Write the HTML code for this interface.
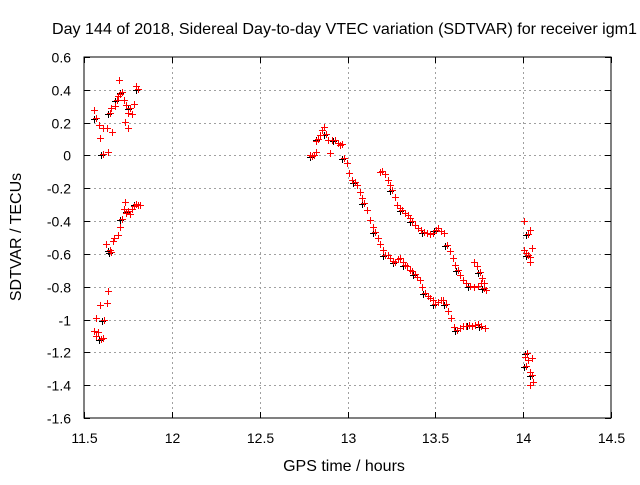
<!DOCTYPE html>
<html><head><meta charset="utf-8"><style>
body{margin:0;background:#fff}
svg text{font-family:"Liberation Sans",sans-serif;font-size:14px;fill:#000}
svg text.big{font-size:16px}
</style></head><body>
<svg id="chart" width="640" height="480" xmlns="http://www.w3.org/2000/svg">
<text class="big" x="52" y="34" textLength="585" lengthAdjust="spacingAndGlyphs">Day 144 of 2018, Sidereal Day-to-day VTEC variation (SDTVAR) for receiver igm1</text>
<text class="big" x="344" y="471" text-anchor="middle">GPS time / hours</text>
<text class="big" x="0" y="0" text-anchor="middle" transform="translate(21,237) rotate(-90)">SDTVAR / TECUs</text>
<g id="grid"></g><g id="ticks"></g><g id="marks"></g>
<rect x="84" y="57" width="527" height="361" fill="none" stroke="#000" stroke-width="1"/>
</svg>
<script>
const xTicks=[11.5,12,12.5,13,13.5,14,14.5];
const xTickLabels=["11.5","12","12.5","13","13.5","14","14.5"];
const yTicks=[0.6,0.4,0.2,0,-0.2,-0.4,-0.6,-0.8,-1,-1.2,-1.4,-1.6];
const yTickLabels=["0.6","0.4","0.2","0","-0.2","-0.4","-0.6","-0.8","-1","-1.2","-1.4","-1.6"];
const xsA=[11.557,11.568,11.585,11.591,11.608,11.608,11.637,11.659,11.676,11.688,11.694,11.699,11.705,11.716,11.728,11.739,11.750,11.762,11.773,11.785,11.796,11.807,11.75,11.733,11.631,11.648,11.654];
const ysA=[0.277,0.228,0.185,0.106,0.167,0.008,0.02,0.143,0.301,0.338,0.362,0.46,0.374,0.386,0.338,0.307,0.258,0.289,0.252,0.313,0.423,0.405,0.167,0.204,0.167,0.258,0.289];
const xsB=[11.625,11.648,11.671,11.694,11.705,11.716,11.728,11.733,11.739,11.75,11.762,11.773,11.785,11.796,11.807,11.819,11.665,11.654,11.637,11.631,11.591,11.614,11.568,11.557,11.580,11.597,11.608,11.568];
const ysB=[-0.541,-0.577,-0.504,-0.486,-0.437,-0.388,-0.327,-0.284,-0.352,-0.339,-0.357,-0.327,-0.309,-0.296,-0.302,-0.302,-0.522,-0.589,-0.827,-0.9,-0.912,-1.004,-0.992,-1.071,-1.077,-1.12,-1.114,-1.102];
const xsC=[12.787,12.798,12.809,12.821,12.821,12.832,12.843,12.855,12.866,12.878,12.889,12.900,12.912,12.929,12.946,12.957,12.969,12.980,12.997,13.009,13.026,13.043,13.054,13.071,13.083,13.094,13.111,13.128,13.145,13.157,13.174,13.185,13.202,13.214,13.231,13.242,13.259,13.271,13.288,13.299,13.316,13.327,13.339,13.356,13.367,13.384,13.396,13.413,13.424,13.441,13.458,13.470,13.487,13.498,13.515,13.532,13.544,13.561,13.572,13.589,13.606,13.623,13.640,13.658,13.675,13.692,13.709,13.726,13.743,13.760,13.783];
const ysC=[0.002,-0.004,0.002,0.02,0.088,0.1,0.124,0.155,0.173,0.130,0.094,0.014,0.094,0.094,0.075,0.063,0.069,-0.016,-0.047,-0.108,-0.150,-0.163,-0.181,-0.224,-0.260,-0.291,-0.334,-0.395,-0.437,-0.468,-0.504,-0.541,-0.577,-0.608,-0.608,-0.626,-0.644,-0.650,-0.632,-0.626,-0.650,-0.669,-0.675,-0.699,-0.705,-0.724,-0.742,-0.760,-0.803,-0.840,-0.858,-0.870,-0.882,-0.907,-0.894,-0.882,-0.882,-0.907,-0.949,-0.992,-1.047,-1.065,-1.053,-1.040,-1.040,-1.034,-1.040,-1.034,-1.028,-1.040,-1.053];
const xsD=[13.185,13.197,13.214,13.231,13.242,13.253,13.271,13.282,13.299,13.310,13.327,13.345,13.356,13.367,13.384,13.401,13.418,13.436,13.453,13.470,13.487,13.504,13.515,13.532,13.549,13.567,13.584,13.601,13.612,13.629,13.640,13.658,13.675,13.698,13.720,13.743,13.760,13.777,13.789,13.720,13.737,13.754,13.766,13.777];
const ysD=[-0.101,-0.095,-0.113,-0.150,-0.181,-0.211,-0.254,-0.303,-0.321,-0.334,-0.352,-0.364,-0.382,-0.401,-0.425,-0.443,-0.455,-0.468,-0.474,-0.480,-0.474,-0.455,-0.443,-0.461,-0.474,-0.547,-0.583,-0.626,-0.669,-0.699,-0.730,-0.760,-0.778,-0.797,-0.803,-0.797,-0.778,-0.809,-0.821,-0.650,-0.675,-0.711,-0.748,-0.778];
const xsE=[14.005,14.028,14.039,14.005,14.016,14.028,14.039,14.039,14.050,14.022,14.011,14.028,14.039,14.050,14.039,14.056,14.050,14.016];
const ysE=[-0.400,-0.479,-0.455,-0.577,-0.595,-0.608,-0.620,-0.650,-0.565,-1.205,-1.230,-1.248,-1.321,-1.339,-1.400,-1.382,-1.236,-1.285];

const NS="http://www.w3.org/2000/svg";
const L=84,R=611,T=57,B=418;
function sx(v){return L+(v-11.5)/(14.5-11.5)*(R-L);}
function sy(v){return T+(0.6-v)/(0.6+1.6)*(B-T);}
function mk(tag,attrs,parent){const e=document.createElementNS(NS,tag);for(const k in attrs)e.setAttribute(k,attrs[k]);parent.appendChild(e);return e;}
const grid=document.getElementById('grid'),ticks=document.getElementById('ticks'),marks=document.getElementById('marks');
xTicks.forEach((v,i)=>{
  const x=Math.round(sx(v))+0.5;
  if(i>0&&i<xTicks.length-1){const g=mk('line',{x1:x,x2:x,y1:T,y2:B,stroke:'#a0a0a0','stroke-dasharray':'2,3'},grid);
  
  }
  mk('line',{x1:x,x2:x,y1:B,y2:B-6,stroke:'#000'},ticks);
  mk('line',{x1:x,x2:x,y1:T,y2:T+6,stroke:'#000'},ticks);
  const t=mk('text',{x:x,y:B+25,'text-anchor':'middle'},ticks);t.textContent=xTickLabels[i];
  
  
});
yTicks.forEach((v,i)=>{
  const y=Math.round(sy(v))+0.5;
  if(i>0&&i<yTicks.length-1){const g=mk('line',{x1:L,x2:R,y1:y,y2:y,stroke:'#a0a0a0','stroke-dasharray':'2,3'},grid);
  
  }
  mk('line',{x1:L,x2:L+6,y1:y,y2:y,stroke:'#000'},ticks);
  mk('line',{x1:R,x2:R-6,y1:y,y2:y,stroke:'#000'},ticks);
  const t=mk('text',{x:L-13,y:y+5,'text-anchor':'end'},ticks);t.textContent=yTickLabels[i];
  
  
});
function plus(x,y,color){
  const p=mk('path',{d:`M${x-3.5},${y}H${x+3.5}M${x},${y-3.5}V${y+3.5}`,stroke:color,'stroke-width':1,fill:'none'},marks);
  
  
}
[[xsA,ysA],[xsB,ysB],[xsC,ysC],[xsD,ysD],[xsE,ysE]].forEach(([xs,ys])=>{
  xs.forEach((v,i)=>{if(i%4===1)plus(Math.round(sx(v))-1.5,Math.round(sy(ys[i]))+1.5,'#000');});
  xs.forEach((v,i)=>plus(Math.round(sx(v))+0.5,Math.round(sy(ys[i]))+0.5,'#f00'));
});
</script>
</body></html>
